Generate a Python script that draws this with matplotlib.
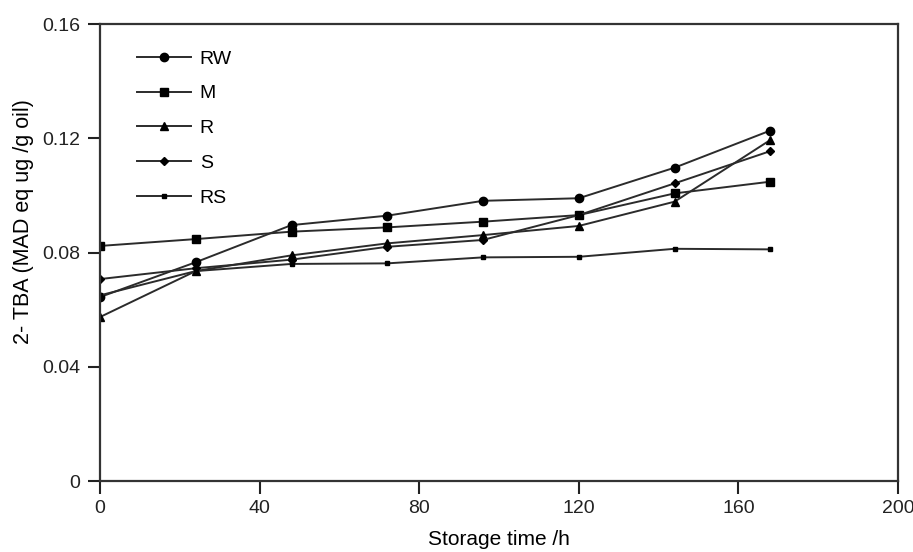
import numpy as np
import matplotlib.pyplot as plt

plt.rcParams['font.family'] = ['Liberation Sans', 'DejaVu Sans']

# storage time (h)
t = [0, 24, 48, 72, 96, 120, 144, 168]

# TBA values
rw = [0.0644, 0.0766, 0.0896, 0.0929, 0.0981, 0.0990, 0.1097, 0.1227]
m = [0.0823, 0.0847, 0.0873, 0.0888, 0.0908, 0.0931, 0.1007, 0.1048]
r = [0.0574, 0.0735, 0.0790, 0.0832, 0.0861, 0.0893, 0.0978, 0.1194]
s = [0.0707, 0.0745, 0.0775, 0.0820, 0.0844, 0.0931, 0.1042, 0.1155]
rs = [0.0650, 0.0735, 0.0760, 0.0762, 0.0783, 0.0785, 0.0813, 0.0811]

labels = ['RW', 'M', 'R', 'S', 'RS']
markers = ['o', 's', '^', 'D', 's']
sizes = [6, 5.5, 5.5, 4.5, 2.5]

fig = plt.figure(figsize=(9.13, 5.52), dpi=100)
ax = fig.add_axes([0.1095, 0.1286, 0.8741, 0.8279])

col = '#2b2b2b'
for y, lab, mk, ms in zip([rw, m, r, s, rs], labels, markers, sizes):
    ax.plot(t, y, color=col, lw=1.4, marker=mk, ms=ms, mfc='black', mec='black', label=lab)

ax.set_xlim(0, 200)
ax.set_ylim(0, 0.16)
ax.set_xticks([0, 40, 80, 120, 160, 200])
ax.set_yticks([0, 0.04, 0.08, 0.12, 0.16])
ax.set_yticklabels(['0', '0.04', '0.08', '0.12', '0.16'])
ax.tick_params(direction='out', length=9, width=1.5, labelsize=14, colors='#222222', pad=5)
for sp in ax.spines.values():
    sp.set_linewidth(1.6)
    sp.set_color('#333333')

ax.set_xlabel('Storage time /h', fontsize=15, labelpad=9)
ax.set_ylabel('2- TBA (MAD eq ug /g oil)', fontsize=15.5)
ax.yaxis.set_label_coords(-0.083, 0.567)

ax.legend(loc='upper left', bbox_to_anchor=(0.047, 0.943), frameon=False,
          borderpad=0, borderaxespad=0,
          fontsize=14, handlelength=2.75, labelspacing=0.88, handletextpad=0.45)

fig.savefig('out.png', dpi=100)
